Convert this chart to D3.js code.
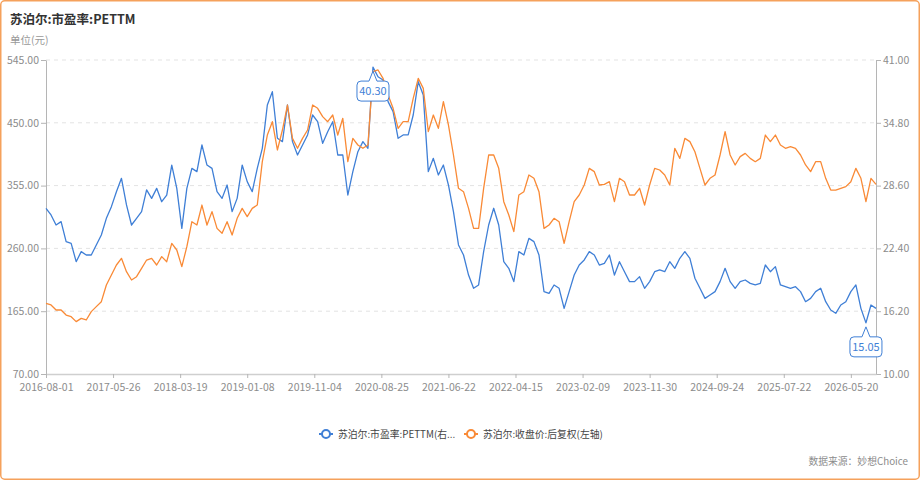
<!DOCTYPE html>
<html>
<head>
<meta charset="utf-8">
<script src="https://cdn.jsdelivr.net/npm/d3@7"></script>
<style>
  html, body { margin: 0; padding: 0; background: #fff; }
  #chart { width: 920px; height: 480px; }
  text { font-family: "Noto Sans CJK SC", "Noto Sans", sans-serif; }
</style>
</head>
<body>
<div id="chart"></div>
<script>
// x axis: trading-day index, labels every 200 days
const xLabels = ["2016-08-01", "2017-05-26", "2018-03-19", "2019-01-08", "2019-11-04", "2020-08-25",
  "2021-06-22", "2022-04-15", "2023-02-09", "2023-11-30", "2024-09-24", "2025-07-22", "2026-05-20"];
const xTickDays = [0, 200, 400, 600, 800, 1000, 1200, 1400, 1600, 1800, 2000, 2200, 2400];
const lastDay = 2475;
const sampleStep = 15; // readings taken every 15 trading days

const leftTicks = [70, 165, 260, 355, 450, 545];
const rightTicks = [10, 16.2, 22.4, 28.6, 34.8, 41];

// 苏泊尔:市盈率:PETTM (right axis)
const peValues = [
  26.36, 25.70, 24.71, 25.04, 23.07, 22.90, 21.09, 22.08, 21.75, 21.75,
  22.74, 23.72, 25.37, 26.52, 28.00, 29.32, 26.69, 24.71, 25.37, 26.03,
  28.17, 27.34, 28.33, 27.01, 27.67, 30.63, 28.33, 24.38, 28.33, 30.30,
  29.98, 32.61, 30.63, 30.30, 28.00, 27.34, 28.66, 26.03, 27.34, 30.63,
  28.99, 28.00, 30.30, 32.28, 36.56, 37.87, 33.27, 32.94, 36.56, 32.94,
  31.62, 32.61, 33.60, 35.57, 34.91, 32.77, 33.92, 34.91, 31.62, 31.62,
  27.67, 29.98, 31.95, 32.94, 32.28, 40.30, 39.35, 39.03, 36.89, 35.90,
  33.27, 33.60, 33.60, 35.57, 38.86, 37.55, 29.98, 31.29, 29.65, 30.63,
  28.66, 26.03, 22.74, 21.75, 19.77, 18.46, 18.79, 22.08, 24.71, 26.36,
  24.71, 21.09, 20.43, 19.12, 22.08, 21.75, 23.39, 23.07, 21.75, 18.13,
  17.96, 18.79, 18.46, 16.48, 18.13, 19.77, 20.76, 21.26, 22.08, 21.75,
  20.76, 20.93, 21.75, 19.77, 21.09, 20.10, 19.12, 19.12, 19.61, 18.46,
  19.12, 20.10, 20.27, 20.10, 21.09, 20.43, 21.42, 22.08, 21.42, 19.45,
  18.46, 17.47, 17.80, 18.13, 19.12, 20.43, 19.12, 18.46, 19.12, 19.28,
  18.95, 18.79, 18.95, 20.76, 20.10, 20.60, 18.79, 18.62, 18.46, 18.62,
  18.13, 17.14, 17.47, 18.13, 18.46, 17.14, 16.32, 15.99, 16.81, 17.14,
  18.13, 18.79, 16.48, 15.05, 16.81, 16.48
];

// 苏泊尔:收盘价:后复权 (left axis)
const priceValues = [
  176.9, 174.4, 166.8, 166.8, 159.2, 156.7, 149.2, 154.2, 151.7, 164.3,
  171.9, 179.4, 204.6, 219.8, 234.9, 245.0, 224.8, 212.2, 217.2, 229.8,
  242.4, 245.0, 234.9, 247.5, 239.9, 267.7, 257.6, 232.4, 262.6, 300.4,
  295.4, 325.6, 295.4, 315.6, 290.3, 282.8, 300.4, 280.3, 305.5, 320.6,
  308.0, 320.6, 325.6, 391.2, 431.5, 451.7, 408.9, 439.1, 476.9, 426.5,
  411.4, 426.5, 439.1, 476.9, 471.9, 459.3, 451.7, 461.8, 431.5, 456.8,
  391.2, 426.5, 416.4, 411.4, 416.4, 527.4, 529.9, 517.3, 492.1, 471.9,
  441.6, 451.7, 451.7, 487.0, 517.3, 502.1, 436.6, 461.8, 441.6, 482.0,
  446.7, 401.3, 350.9, 345.8, 320.6, 290.3, 290.3, 350.9, 401.3, 401.3,
  381.1, 330.7, 310.5, 285.3, 340.8, 345.8, 371.0, 366.0, 345.8, 290.3,
  295.4, 305.5, 300.4, 267.7, 300.4, 330.7, 340.8, 355.9, 381.1, 376.1,
  355.9, 356.9, 360.9, 330.7, 366.0, 360.9, 340.8, 340.8, 350.9, 325.6,
  355.9, 381.1, 378.6, 371.0, 355.9, 411.4, 396.2, 426.5, 421.5, 406.3,
  381.1, 355.9, 366.0, 371.0, 401.3, 436.6, 401.3, 386.2, 398.8, 403.8,
  396.2, 391.2, 396.2, 431.5, 421.5, 431.5, 416.4, 411.4, 413.9, 411.4,
  401.3, 386.2, 376.1, 391.2, 391.2, 366.0, 348.3, 348.3, 350.9, 353.4,
  360.9, 381.1, 366.0, 330.7, 366.0, 356.9
];

const seriesNames = ["苏泊尔:市盈率:PETTM(右...", "苏泊尔:收盘价:后复权(左轴)"];
const blue = "#3f7fd6";
const orange = "#f98a36";

const W = 920, H = 480;
const margin = { top: 60, right: 44, bottom: 106, left: 46 };

const svg = d3.select("#chart").append("svg")
  .attr("width", W)
  .attr("height", H);

// frame
svg.append("rect")
  .attr("x", 0.75).attr("y", 0.75)
  .attr("width", W - 1.5).attr("height", H - 1.5)
  .attr("rx", 4)
  .attr("fill", "#fff")
  .attr("stroke", "#f5a15c")
  .attr("stroke-width", 1.5);

svg.append("text")
  .attr("x", 10).attr("y", 24)
  .attr("font-size", 12.5).attr("font-weight", "bold")
  .attr("fill", "#333")
  .text("苏泊尔:市盈率:PETTM");

svg.append("text")
  .attr("x", 10).attr("y", 44)
  .attr("font-size", 10.5)
  .attr("fill", "#999")
  .text("单位(元)");

const x = d3.scaleLinear().domain([0, lastDay]).range([margin.left, W - margin.right]);
const yL = d3.scaleLinear().domain([70, 545]).range([H - margin.bottom, margin.top]);
const yR = d3.scaleLinear().domain([10, 41]).range([H - margin.bottom, margin.top]);

// grid
svg.append("g")
  .selectAll("line")
  .data(leftTicks.slice(1))
  .join("line")
    .attr("x1", x(0)).attr("x2", x(lastDay))
    .attr("y1", d => yL(d)).attr("y2", d => yL(d))
    .attr("stroke", "#e3e3e3")
    .attr("stroke-dasharray", "4,4");

const styleAxis = g => {
  g.select(".domain").attr("stroke", "#b5b5b5");
  g.selectAll(".tick line").attr("stroke", "#b5b5b5");
  g.selectAll(".tick text")
    .attr("fill", "#8c8c8c")
    .attr("font-size", 10.5)
    .attr("font-family", "\"Noto Sans CJK SC\", sans-serif");
};

svg.append("g")
  .attr("transform", `translate(${margin.left},0)`)
  .call(d3.axisLeft(yL).tickValues(leftTicks).tickFormat(d3.format(".2f")).tickSize(5).tickSizeOuter(0).tickPadding(2))
  .call(styleAxis);

svg.append("g")
  .attr("transform", `translate(${W - margin.right},0)`)
  .call(d3.axisRight(yR).tickValues(rightTicks).tickFormat(d3.format(".2f")).tickSize(5).tickSizeOuter(0).tickPadding(2))
  .call(styleAxis);

const xAxis = svg.append("g")
  .attr("transform", `translate(0,${H - margin.bottom})`)
  .call(d3.axisBottom(x).tickValues(xTickDays).tickFormat((d, i) => xLabels[i]).tickSize(4).tickSizeOuter(0).tickPadding(6))
  .call(styleAxis);
xAxis.select(".domain").attr("stroke", "#cfcfcf").attr("stroke-width", 1.5);

// lines
const peLine = d3.line()
  .x((d, i) => x(i * sampleStep))
  .y(d => yR(d));
const priceLine = d3.line()
  .x((d, i) => x(i * sampleStep))
  .y(d => yL(d));

svg.append("path")
  .datum(peValues)
  .attr("fill", "none")
  .attr("stroke", blue)
  .attr("stroke-width", 1.3)
  .attr("stroke-linejoin", "round")
  .attr("d", peLine);

svg.append("path")
  .datum(priceValues)
  .attr("fill", "none")
  .attr("stroke", orange)
  .attr("stroke-width", 1.3)
  .attr("stroke-linejoin", "round")
  .attr("d", priceLine);

// max / min callouts on the PE series
const calloutPath = (cx, tipY, top, w, h) => {
  const r = 4, nw = 4, l = cx - w / 2, rt = cx + w / 2, b = top + h;
  return `M${l + r},${top}L${cx - nw},${top}L${cx},${tipY}L${cx + nw},${top}` +
    `L${rt - r},${top}Q${rt},${top} ${rt},${top + r}L${rt},${b - r}Q${rt},${b} ${rt - r},${b}` +
    `L${l + r},${b}Q${l},${b} ${l},${b - r}L${l},${top + r}Q${l},${top} ${l + r},${top}Z`;
};

const peMax = d3.max(peValues), peMin = d3.min(peValues);
const marks = [
  { i: peValues.indexOf(peMax), v: peMax },
  { i: peValues.indexOf(peMin), v: peMin }
];

const callouts = svg.append("g")
  .selectAll("g")
  .data(marks)
  .join("g");

callouts.append("path")
  .attr("d", d => {
    const px = x(d.i * sampleStep), py = yR(d.v);
    return calloutPath(px, py + 4, py + 14, 32, 20);
  })
  .attr("fill", "#fff")
  .attr("stroke", blue)
  .attr("stroke-width", 1);

callouts.append("text")
  .attr("x", d => x(d.i * sampleStep))
  .attr("y", d => yR(d.v) + 28)
  .attr("text-anchor", "middle")
  .attr("font-size", 11)
  .attr("fill", blue)
  .text(d => d.v.toFixed(2));

// legend
const legend = svg.append("g").attr("transform", "translate(0,434)");
const legendItems = [
  { name: seriesNames[0], color: blue, x: 326 },
  { name: seriesNames[1], color: orange, x: 471 }
];
const li = legend.selectAll("g")
  .data(legendItems)
  .join("g")
    .attr("transform", d => `translate(${d.x},0)`);
li.append("line")
  .attr("x1", -7).attr("x2", 7)
  .attr("stroke", d => d.color).attr("stroke-width", 2);
li.append("circle")
  .attr("r", 4)
  .attr("fill", "#fff")
  .attr("stroke", d => d.color).attr("stroke-width", 2);
li.append("text")
  .attr("x", 12).attr("y", 3.5)
  .attr("font-size", 9.8)
  .attr("fill", "#444")
  .text(d => d.name);

svg.append("text")
  .attr("x", 908).attr("y", 465)
  .attr("text-anchor", "end")
  .attr("font-size", 9.8)
  .attr("fill", "#8c8c8c")
  .text("数据来源：妙想Choice");
</script>
</body>
</html>
